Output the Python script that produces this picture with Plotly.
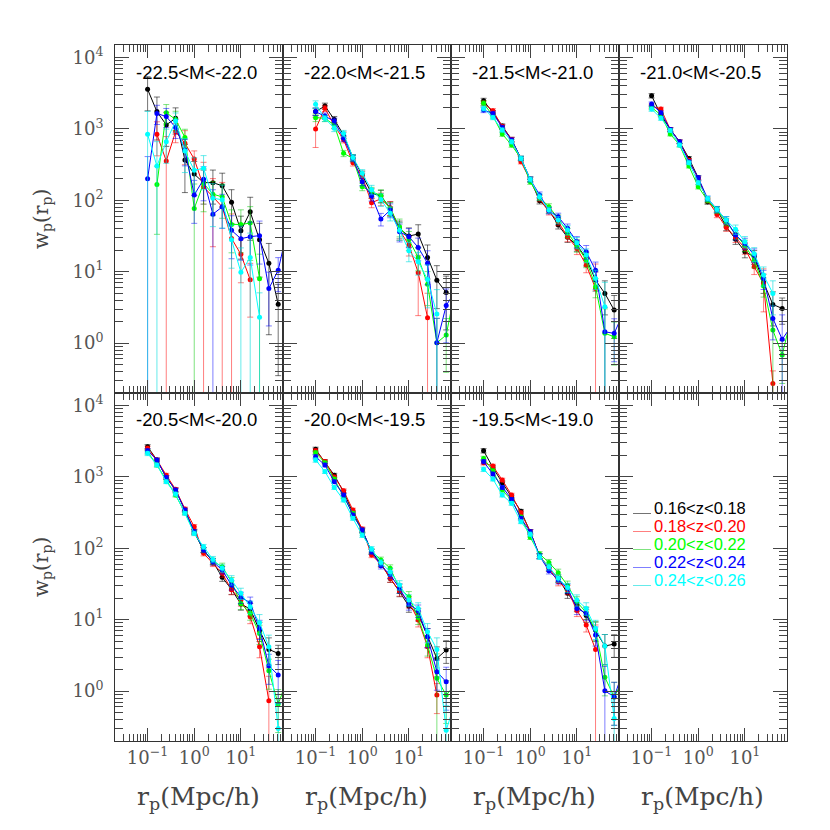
import math
import plotly.graph_objects as go
from plotly.subplots import make_subplots

# ---------------- data ----------------
rp = [0.1, 0.1585, 0.2512, 0.3981, 0.631, 1.0, 1.585, 2.512, 3.981, 6.31,
      10.0, 15.85, 25.12, 39.81, 63.1, 100.0]

panel_titles = ["-22.5<M<-22.0", "-22.0<M<-21.5", "-21.5<M<-21.0", "-21.0<M<-20.5",
                "-20.5<M<-20.0", "-20.0<M<-19.5", "-19.5<M<-19.0"]
z_labels = ["0.16<z<0.18", "0.18<z<0.20", "0.20<z<0.22", "0.22<z<0.24", "0.24<z<0.26"]
series_colors = ["#000000", "#ff0000", "#00ff00", "#0000ff", "#00ffff"]
error_colors = ["rgba(0,0,0,0.55)", "rgba(255,0,0,0.5)", "rgba(0,200,0,0.5)",
                "rgba(0,0,255,0.5)", "rgba(0,220,220,0.6)"]

N = None
# panel 1 : -22.5<M<-22.0
wp_p1_k = [3590, 1750, 1140, 1410, 367, 233, 177, 177, 160, 94, 37.5, 69, 28, 13.1, 3.5]
wp_p1_r = [N, 840, 356, 916, 631, 379, 155, 112, 81, 29.3, 17.5, 7.7, N, N, N]
wp_p1_g = [N, 167, 1690, 1360, 762, 77, 173, 122, 112, 46, 46, 48, 8.0, N, N]
wp_p1_b = [200, 1650, 1490, 1050, 507, 119, 197, 64, 81, 38, 29, 31, 32, 5.8, 10.5, 40]
wp_p1_c = [840, 302, 661, 1288, 490, 263, 282, 107, 102, 28, 9.8, 15.8, 2.3, N, N]
rel_p1_k = [0.5, 0.6, 0.5, 0.4, 0.65, 0.5, 0.5, 0.5, 0.5, 0.5, 0.6, 0.6, 0.7, 0.9, 0.9]
rel_p1_r = [N, 0.5, 1.2, 0.3, 0.5, 0.3, 1.2, 0.8, 1.2, 1.2, 0.6, 0.7, N, N, N]
rel_p1_g = [N, 0.8, 0.3, 0.3, 0.3, 1.2, 0.6, 0.5, 0.5, 0.6, 0.6, 0.7, 1.2, N, N]
rel_p1_b = [1.05, 0.3, 0.3, 0.3, 0.4, 0.6, 0.5, 1.2, 0.5, 0.6, 0.5, 0.6, 0.6, 0.7, 0.5]
rel_p1_c = [1.1, 1.2, 0.5, 0.3, 0.5, 0.5, 0.5, 0.6, 0.6, 0.6, 1.2, 1.2, 1.2, N, N]

# panel 2 : -22.0<M<-21.5
wp_p2_k = [1750, 2090, 1360, 822, 398, 229, 126, 115, 78, 40, 31.6, 33.7, 15.8, 7.6, 5.1]
wp_p2_r = [1000, 1950, 1120, 708, 336, 214, 92.7, 105, 79, 38, 23.7, 9.7, 2.27, N, N]
wp_p2_g = [1440, 1410, 1135, 455, 387, 155, 132, 117, 76, 42.7, 28.2, 15.8, 6.7, 1.01, 1.30, 5.8]
wp_p2_b = [1750, 1520, 1290, 738, 387, 182, 115, 54.7, 73.1, 36.3, 30.9, 21.9, 13.1, 1.01, 3.37, 5.4]
wp_p2_c = [2210, 1410, 1020, 867, 398, 240, 141, 103, 66, 38, 19.7, 13.8, 7.8, 2.55, N]

# panel 3 : -21.5<M<-21.0
wp_p3_k = [2490, 1690, 1100, 714, 387, 197, 98.9, 73.1, 45.1, 30.3, 23.6, 15.4, 7.64, 4.97, 2.90]
wp_p3_r = [2290, 1800, 1080, 714, 348, 197, 106, 69.3, 50.1, 30.9, 21.2, 12.4, 5.83, N, N]
wp_p3_g = [2290, 1520, 849, 596, 387, 182, 110, 81.5, 55.8, 35.2, 22.9, 14.6, 6.17, 1.37, 1.23]
wp_p3_b = [1840, 1650, 1050, 700, 387, 197, 119, 71.6, 58.9, 40.5, 26.3, 19.1, 10.5, 1.44, 1.37, 2.7]
wp_p3_c = [1940, 1450, 966, 661, 387, 197, 112, 73.1, 53, 38.4, 25.5, 17.1, 8.05, 3.23, N]

# panel 4 : -21.0<M<-20.5
wp_p4_k = [2920, 1570, 986, 662, 387, 207, 95.7, 74.6, 42.7, 28.4, 19.1, 16.2, 7.1, 3.48, 3.06]
wp_p4_r = [2090, 1900, 986, 662, 363, 200, 100, 63.5, 41.8, 30.2, 21.4, 11.7, 6.85, 0.272, N]
wp_p4_g = [2000, 1570, 849, 596, 302, 155, 100, 72.4, 50.1, 33.1, 23.4, 14.5, 6.3, 1.52, 0.68, 2.4]
wp_p4_b = [2230, 1690, 986, 662, 347, 207, 106, 74.6, 53, 32.7, 24.9, 17.1, 8.05, 2.22, 1.13, 1.75]
wp_p4_c = [1900, 1410, 955, 596, 336, 177, 106, 74.6, 53, 39.2, 26.3, 17.8, 8.97, 4.97, N]

# panel 5 : -20.5<M<-20.0
wp_p5_k = [2650, 1730, 986, 656, 344, 171, 94.6, 65, 39.2, 26.6, 16.6, 14.1, 7.08, 3.84, 3.37]
wp_p5_r = [2520, 1730, 1060, 670, 356, 201, 85.1, 61.7, 44.6, 26.3, 18.9, 11.0, 4.19, 0.733, N]
wp_p5_g = [2240, 1470, 906, 558, 316, 166, 94.6, 66.1, 55.3, 33.9, 16.9, 12.3, 6.43, 1.93, 0.658, 1.5]
wp_p5_b = [2330, 1730, 986, 656, 344, 171, 94.6, 65, 49.7, 30.6, 20.6, 17.3, 7.55, 2.26, 1.68]
wp_p5_c = [2140, 1470, 859, 575, 309, 162, 105, 70, 52.5, 36, 23.4, 15.2, 9.08, 4.19, 0.30]

# panel 6 : -20.0<M<-19.5
wp_p6_k = [2440, 1640, 1060, 617, 316, 180, 89.7, 61.5, 37.9, 24.7, 15.5, 12.0, 5.78, 2.87, 3.76]
wp_p6_r = [2330, 1640, 1000, 643, 344, 186, 80.5, 60.3, 38, 25.1, 17.8, 9.9, 4.19, 0.88, N]
wp_p6_g = [2190, 1580, 933, 525, 309, 174, 91.2, 68.5, 52.4, 27.5, 21, 10.7, 4.42, 1.51, 0.88, 1.25]
wp_p6_b = [1920, 1470, 859, 558, 293, 180, 89.7, 57.1, 42.7, 27.5, 16.6, 13.4, 5.78, 1.87, 1.35]
wp_p6_c = [1730, 1190, 714, 475, 263, 153, 97.7, 63.1, 46.8, 30.6, 18.9, 14.4, 6.79, 3.84, 0.284, 0.73]

# panel 7 : -19.5<M<-19.0
wp_p7_k = [2330, 1350, 832, 525, 331, 171, 78, 53.7, 38, 23.4, 15.8, 11.5, 7.16, 4.28, 4.56]
wp_p7_r = [1580, 1420, 906, 558, 316, 171, 78, 52.5, 33.9, 26.3, 13.5, 8.41, 3.84, N, N]
wp_p7_g = [1820, 1220, 656, 468, 275, 143, 83.2, 63.5, 45.6, 30.2, 17.8, 12.6, 7.16, 1.56, 0.83, 1.5]
wp_p7_b = [1640, 1100, 714, 485, 263, 171, 78, 48.6, 36, 27.5, 14.4, 12.3, 6.1, 1.01, 0.83, 2.0]
wp_p7_c = [1280, 935, 558, 427, 236, 158, 75.9, 55, 38, 28.2, 18.9, 14.4, 7.55, 4.28, 0.414]

# relative errors (fraction of wp) for panels 2-7
rel_p2 = [0.12, 0.1, 0.1, 0.1, 0.1, 0.12, 0.15, 0.2, 0.22, 0.28, 0.3, 0.35, 0.5, 0.6, 0.7]
rel_p3 = [0.08, 0.07, 0.07, 0.07, 0.07, 0.08, 0.1, 0.1, 0.12, 0.15, 0.18, 0.22, 0.3, 0.5, 0.6]
rel_p4 = [0.07, 0.06, 0.06, 0.06, 0.06, 0.07, 0.08, 0.1, 0.12, 0.15, 0.18, 0.22, 0.3, 0.5, 0.6]
rel_p5 = [0.07, 0.06, 0.06, 0.06, 0.06, 0.07, 0.08, 0.1, 0.12, 0.15, 0.18, 0.2, 0.3, 0.45, 0.6]
rel_p6 = [0.07, 0.06, 0.06, 0.06, 0.06, 0.07, 0.08, 0.1, 0.12, 0.15, 0.18, 0.2, 0.3, 0.45, 0.6]
rel_p7 = [0.07, 0.06, 0.06, 0.06, 0.06, 0.07, 0.08, 0.1, 0.12, 0.15, 0.18, 0.2, 0.3, 0.45, 0.6]
# (panel, series, point, relative error) for bars that differ
rel_overrides = [
    (2, 1, 0, 0.45), (2, 1, 11, 0.75), (2, 1, 12, 1.2), (2, 2, 13, 1.2), (2, 3, 13, 1.2),
    (2, 4, 13, 1.2), (2, 4, 12, 0.6),
    (3, 1, 12, 1.2), (3, 3, 13, 1.2), (3, 4, 13, 1.2), (3, 2, 13, 1.2),
    (4, 1, 12, 0.6), (4, 2, 13, 1.2), (4, 0, 14, 0.4), (4, 3, 14, 1.2),
    (5, 1, 13, 1.2), (5, 4, 14, 1.2), (5, 0, 14, 0.3),
    (6, 2, 13, 1.2), (6, 4, 14, 1.2), (6, 0, 14, 0.35),
    (7, 1, 12, 1.2), (7, 3, 13, 1.2), (7, 4, 14, 1.2), (7, 0, 14, 0.35),
]

panels_wp = [
    [wp_p1_k, wp_p1_r, wp_p1_g, wp_p1_b, wp_p1_c],
    [wp_p2_k, wp_p2_r, wp_p2_g, wp_p2_b, wp_p2_c],
    [wp_p3_k, wp_p3_r, wp_p3_g, wp_p3_b, wp_p3_c],
    [wp_p4_k, wp_p4_r, wp_p4_g, wp_p4_b, wp_p4_c],
    [wp_p5_k, wp_p5_r, wp_p5_g, wp_p5_b, wp_p5_c],
    [wp_p6_k, wp_p6_r, wp_p6_g, wp_p6_b, wp_p6_c],
    [wp_p7_k, wp_p7_r, wp_p7_g, wp_p7_b, wp_p7_c],
]
panels_rel = [
    [rel_p1_k, rel_p1_r, rel_p1_g, rel_p1_b, rel_p1_c],
    [rel_p2] * 5, [rel_p3] * 5, [rel_p4] * 5, [rel_p5] * 5, [rel_p6] * 5, [rel_p7] * 5,
]

# ---------------- figure ----------------
# the page body has an 8px margin, so the figure starts at (8, 8) in the window
OFF = 8
W, H = 822, 822
ML, MR, MT, MB = 115 - OFF, 43, 45 - OFF, 89
PW, PH = W - ML - MR, H - MT - MB

fig = make_subplots(rows=2, cols=4, horizontal_spacing=0, vertical_spacing=0)

def pad(lst, n=16):
    return list(lst) + [None] * (n - len(lst))

for p in range(7):
    row, col = p // 4 + 1, p % 4 + 1
    for s in range(5):
        y = pad(panels_wp[p][s])
        rel = list(pad(panels_rel[p][s]))
        for (pp, ss, ii, rr) in rel_overrides:
            if pp == p + 1 and ss == s:
                rel[ii] = rr
        err = [(v * r if (v is not None and r is not None) else 0) for v, r in zip(y, rel)]
        fig.add_trace(go.Scatter(
            x=rp, y=y, mode="lines+markers",
            line=dict(color=series_colors[s], width=1),
            marker=dict(color=series_colors[s], size=5),
            error_y=dict(type="data", array=err, visible=True,
                         color=error_colors[s], thickness=1, width=3),
            showlegend=False, hoverinfo="skip", cliponaxis=True,
        ), row=row, col=col)

# empty trace so the eighth (legend) panel keeps its frame and axes
fig.add_trace(go.Scatter(x=[None], y=[None], mode="lines", showlegend=False,
                         hoverinfo="skip"), row=2, col=4)

minor_vals = [m * 10 ** e for e in range(-2, 5) for m in range(2, 10)]
tick_font = dict(family="DejaVu Serif", size=18, color="#555555")
for r in (1, 2):
    for c in (1, 2, 3, 4):
        fig.update_xaxes(
            type="log", range=[math.log10(0.02), math.log10(80)], autorange=False,
            showline=True, linecolor="#333333", linewidth=1, mirror="ticks",
            ticks="inside", ticklen=13, tickcolor="#444444", tickwidth=1,
            tickmode="array", tickvals=[0.1, 1, 10],
            ticktext=["10<sup>\u22121</sup>", "10<sup>0</sup>", "10<sup>1</sup>"],
            showgrid=False, zeroline=False, showticklabels=(r == 2),
            tickfont=tick_font,
            minor=dict(ticks="inside", ticklen=7, tickcolor="#444444", tickwidth=1,
                       tickmode="array", tickvals=minor_vals, showgrid=False),
            row=r, col=c)
        fig.update_yaxes(
            type="log", range=[math.log10(0.2), math.log10(15000)], autorange=False,
            showline=True, linecolor="#333333", linewidth=1, mirror="ticks",
            ticks="inside", ticklen=14, tickcolor="#444444", tickwidth=1,
            tickmode="array", tickvals=[1, 10, 100, 1000, 10000],
            ticktext=["10<sup>0</sup>", "10<sup>1</sup>", "10<sup>2</sup>",
                      "10<sup>3</sup>", "10<sup>4</sup>"],
            showgrid=False, zeroline=False, showticklabels=(c == 1),
            tickfont=tick_font, ticklabelstandoff=7,
            minor=dict(ticks="inside", ticklen=8, tickcolor="#444444", tickwidth=1,
                       tickmode="array", tickvals=minor_vals, showgrid=False),
            row=r, col=c)

# conversion from window pixels to paper coordinates
def px2x(px):
    return (px - OFF - ML) / PW

def px2y(py):
    return (H - MB - (py - OFF)) / PH

annotations = []
for p, title in enumerate(panel_titles):
    row, col = p // 4, p % 4
    cx = (col + 0.5) / 4 - 3 / PW
    cy = px2y(45 + row * 348 + 27)
    annotations.append(dict(
        x=cx, y=cy, xref="paper", yref="paper", xanchor="center", yanchor="middle",
        text=title.replace("<", "&lt;"), showarrow=False,
        font=dict(family="Liberation Sans", size=18.5, color="#000000")))

for c in range(4):
    annotations.append(dict(
        x=(c + 0.5) / 4 - 1 / PW, y=px2y(780), xref="paper", yref="paper",
        xanchor="center", yanchor="top",
        text="r<sub>p</sub>(Mpc/h)", showarrow=False,
        font=dict(family="DejaVu Serif", size=25, color="#444444")))

for r in range(2):
    annotations.append(dict(
        x=px2x(42), y=(1.5 - r) / 2, xref="paper", yref="paper",
        xanchor="center", yanchor="middle", textangle=-90,
        text="w<sub>p</sub>(r<sub>p</sub>)", showarrow=False,
        font=dict(family="DejaVu Serif", size=20, color="#444444")))

# legend in the empty panel
shapes = []
for s, lab in enumerate(z_labels):
    yc = 507.5 + s * 18
    annotations.append(dict(
        x=px2x(652), y=px2y(yc), xref="paper", yref="paper",
        xanchor="left", yanchor="middle", text=lab.replace("<", "&lt;"),
        height=17, valign="middle",
        showarrow=False, font=dict(family="Liberation Sans", size=16.5,
                                   color=series_colors[s])))
    shapes.append(dict(type="line", xref="paper", yref="paper",
                       x0=px2x(633), x1=px2x(651), y0=px2y(yc + 6), y1=px2y(yc + 6),
                       line=dict(color=error_colors[s], width=1)))

fig.update_layout(
    width=W, height=H, margin=dict(l=ML, r=MR, t=MT, b=MB),
    paper_bgcolor="white", plot_bgcolor="white",
    annotations=annotations, shapes=shapes, showlegend=False,
)

fig.write_html("out.html")
